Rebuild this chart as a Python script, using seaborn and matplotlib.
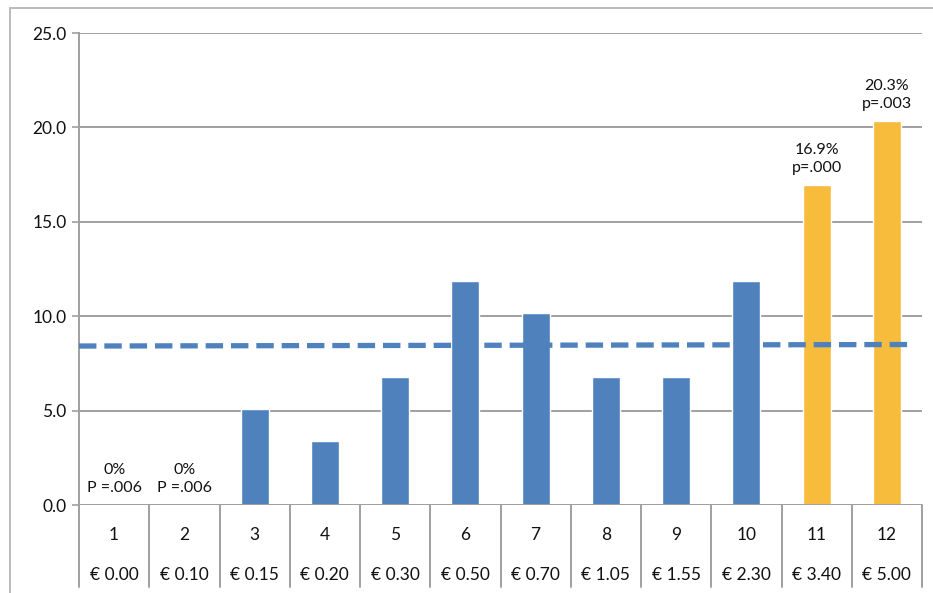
import numpy as np
import pandas as pd
import matplotlib
matplotlib.use("Agg")
import matplotlib.pyplot as plt
import seaborn as sns
from matplotlib.lines import Line2D

# data
categories = ["1", "2", "3", "4", "5", "6", "7", "8", "9", "10", "11", "12"]
prices = ["€ 0.00", "€ 0.10", "€ 0.15", "€ 0.20", "€ 0.30", "€ 0.50",
          "€ 0.70", "€ 1.05", "€ 1.55", "€ 2.30", "€ 3.40", "€ 5.00"]
values = [0.0, 0.0, 5.08, 3.39, 6.78, 11.86, 10.17, 6.78, 6.78, 11.86, 16.95, 20.34]
groups = ["base"] * 10 + ["sig"] * 2
dash_x = [-0.5, 11.33]
dash_y = [8.42, 8.50]
annotations = {0: "0%\nP =.006", 1: "0%\nP =.006", 10: "16.9%\np=.000", 11: "20.3%\np=.003"}

df = pd.DataFrame({"cat": categories, "value": values, "group": groups})

sns.set_theme(style="white")
plt.rcParams["font.family"] = ["Lato", "DejaVu Sans"]

BLUE = "#4F81BD"
GOLD = "#F7BC3C"
GRID = "#A0A0A0"
TXT = "#111111"

fig = plt.figure(figsize=(9.33, 5.93), dpi=100)
ax = fig.add_axes([79 / 933, 88 / 593, 843 / 933, 472 / 593])

sns.barplot(data=df, x="cat", y="value", hue="group", order=categories,
            palette={"base": BLUE, "sig": GOLD}, width=0.4, dodge=False,
            legend=False, ax=ax, saturation=1)

ax.plot(dash_x, dash_y, color=BLUE, lw=3.8, dashes=(3.3, 1.5),
        dash_capstyle="butt", zorder=5)

ax.set_xlim(-0.5, 11.5)
ax.set_ylim(0, 25)
ax.set_yticks([0, 5, 10, 15, 20, 25])
ax.set_yticklabels([f"{v:.1f}" for v in [0, 5, 10, 15, 20, 25]], fontsize=12.5, color=TXT)
ax.tick_params(axis="y", length=5, width=1.2, color=GRID, pad=4, left=True)
ax.set_xticks([])
ax.set_xlabel("")
ax.set_ylabel("")
ax.yaxis.grid(True, color=GRID, lw=1.4)
ax.set_axisbelow(True)
for side in ["top", "right", "bottom"]:
    ax.spines[side].set_visible(False)
ax.spines["left"].set_color(GRID)
ax.spines["left"].set_linewidth(1.4)
ax.axhline(0, color=GRID, lw=1.4, zorder=1)

# value labels
for i, txt in annotations.items():
    ax.text(i, values[i] + 0.55, txt, ha="center", va="bottom", fontsize=11.5,
            linespacing=1.3, color=TXT)

# table under the axis
trans = ax.get_xaxis_transform()
for i, (c, p) in enumerate(zip(categories, prices)):
    ax.text(i, -0.064, c, transform=trans, ha="center", va="center", fontsize=12.5,
            color=TXT, clip_on=False)
    ax.text(i, -0.148, p, transform=trans, ha="center", va="center", fontsize=12.5,
            color=TXT, clip_on=False)
for xb in np.arange(-0.5, 12.0, 1.0):
    ax.add_line(Line2D([xb, xb], [0, -0.173], transform=trans, color=GRID, lw=1.4,
                       clip_on=False))

# outer chart frame
fig.add_artist(Line2D([10 / 933, 10 / 933], [0, 585 / 593], transform=fig.transFigure,
                      color="#BBBBBB", lw=1.4))
fig.add_artist(Line2D([10 / 933, 1], [585 / 593, 585 / 593], transform=fig.transFigure,
                      color="#BBBBBB", lw=1.4))

plt.savefig("out.png", dpi=100)
